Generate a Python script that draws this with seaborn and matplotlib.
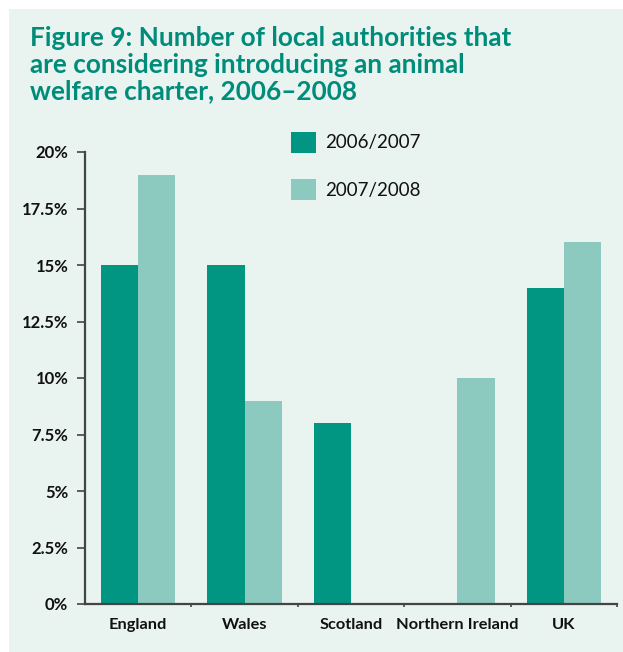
import matplotlib
matplotlib.use("Agg")
import matplotlib.pyplot as plt
import matplotlib.patches as mpatches
from matplotlib.ticker import FixedLocator, FuncFormatter
import pandas as pd
import seaborn as sns

# Data
regions = ["England", "Wales", "Scotland", "Northern Ireland", "UK"]
periods = ["2006/2007", "2007/2008"]
share_0607 = [15, 15, 8, 0, 14]
share_0708 = [19, 9, 0, 10, 16]
y_ticks = [0, 2.5, 5, 7.5, 10, 12.5, 15, 17.5, 20]

title = ("Figure 9: Number of local authorities that\n"
         "are considering introducing an animal\n"
         "welfare charter, 2006\u20132008")

dark = "#009682"
light = "#8CCAC0"
panel_bg = "#E9F3F0"
teal_text = "#008C7A"

df = pd.DataFrame({
    "region": regions * 2,
    "period": [periods[0]] * len(regions) + [periods[1]] * len(regions),
    "share": share_0607 + share_0708,
})

sns.set_theme(style="white")
plt.rcParams["font.family"] = ["Lato", "DejaVu Sans"]

W, H = 623, 652
fig = plt.figure(figsize=(W / 100, H / 100), dpi=100, facecolor="white")
# tinted panel behind everything, leaving a thin white margin top and left
fig.patches.append(mpatches.Rectangle((9 / W, 0), 1, 1 - 9 / H,
                                      transform=fig.transFigure,
                                      facecolor=panel_bg, edgecolor="none",
                                      zorder=-10))

ax = fig.add_axes([85 / W, 48 / H, (617 - 85) / W, (604 - 152) / H])
ax.set_facecolor("none")

sns.barplot(data=df, x="region", y="share", hue="period",
            palette=[dark, light], width=0.70, saturation=1,
            linewidth=0, ax=ax, legend=True)

ax.set_xlim(-0.5, 4.5)
ax.set_ylim(0, 20)
ax.set_xlabel("")
ax.set_ylabel("")

for s in ["top", "right"]:
    ax.spines[s].set_visible(False)
for s in ["left", "bottom"]:
    ax.spines[s].set_color("#444444")
    ax.spines[s].set_linewidth(1.6)

ax.yaxis.set_major_locator(FixedLocator(y_ticks))
ax.yaxis.set_major_formatter(FuncFormatter(lambda v, p: f"{v:g}%"))
ax.tick_params(axis="y", which="major", left=True, length=6, width=1.2,
               color="#444444", labelsize=12, pad=6, labelcolor="#111111")
for lbl in ax.get_yticklabels():
    lbl.set_fontweight("bold")

ax.tick_params(axis="x", which="major", bottom=False, labelsize=11.8,
               pad=4, labelcolor="#111111")
for lbl in ax.get_xticklabels():
    lbl.set_fontweight("bold")
ax.xaxis.set_minor_locator(FixedLocator([0.5, 1.5, 2.5, 3.5, 4.5]))
ax.tick_params(axis="x", which="minor", bottom=True, length=2.5, width=1.2,
               color="#444444")

leg = ax.legend(loc="upper left", bbox_to_anchor=(0.388, 1.045),
                frameon=False, fontsize=13.5, handlelength=1.3,
                handleheight=1.35, handletextpad=0.5, labelspacing=1.4,
                borderaxespad=0, borderpad=0, title=None)
for t in leg.get_texts():
    t.set_color("#111111")

fig.text(30 / W, 1 - 26 / H, title, ha="left", va="top",
         fontsize=18.8, fontweight="bold", color=teal_text,
         linespacing=1.14)

fig.savefig("out.png", dpi=100, facecolor="white")
